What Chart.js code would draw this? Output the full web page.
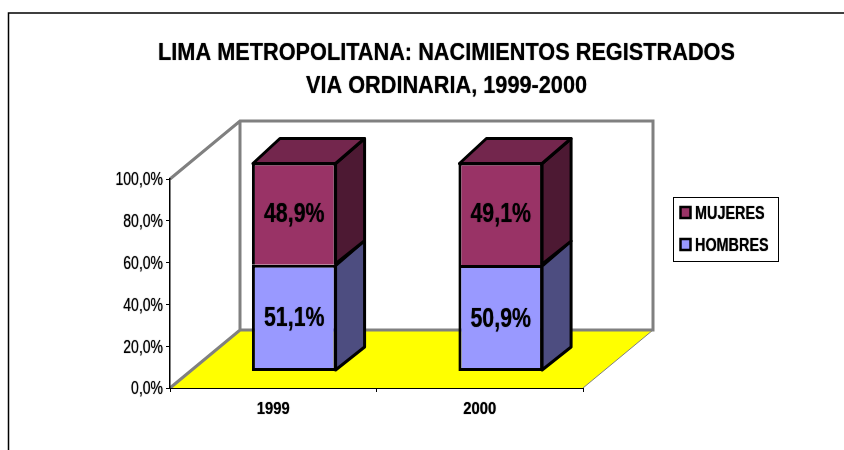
<!DOCTYPE html>
<html><head><meta charset="utf-8">
<style>html,body{margin:0;padding:0;background:#fff}canvas{display:block}</style>
<script src="https://cdn.jsdelivr.net/npm/chart.js@4"></script>
</head><body><canvas id="c" width="844" height="450"></canvas>
<script>
const categories = ['1999', '2000'];
const hombres = [51.1, 50.9];
const mujeres = [48.9, 49.1];
const seriesNames = ['HOMBRES', 'MUJERES'];
const yTicks = {min: 0, max: 100, step: 20};
const titleLines = ['LIMA METROPOLITANA: NACIMIENTOS REGISTRADOS', 'VIA ORDINARIA, 1999-2000'];

const FONT = '"Liberation Sans",Arial,sans-serif';
const pct = v => v.toFixed(1).replace('.', ',') + '%';
const wall = {dx: 70, dy: -58};     // depth of the 3D box
const front = {dx: 21, dy: -16.5};  // offset of the bars' front face
const bar3d = {dx: 28, dy: -24};    // depth of each 3D bar
const shade = {
  side: ['#4d4d80', '#4d1933'],
  top: [null, '#73264d']
};

// The reference text is horizontally condensed: draw real text through a horizontal squeeze
const squeeze = {'24.5': 0.886, '17': 0.87, '17.5': 0.8, '27': 0.79, '18': 0.8};
const nudgeY = {'17.5': 1.5, '27': 1, '18': 1};
const canvas = document.getElementById('c');
const rawCtx = canvas.getContext('2d');
const origFill = rawCtx.fillText.bind(rawCtx);
rawCtx.fillText = function (t, x, y) {
  const mt = /([\d.]+)px/.exec(rawCtx.font);
  const key = mt ? String(parseFloat(mt[1])) : '';
  rawCtx.save();
  rawCtx.translate(x, y + (nudgeY[key] || 0));
  rawCtx.scale(squeeze[key] || 1, 1);
  rawCtx.shadowColor = 'rgba(0,0,0,0.7)';
  rawCtx.shadowBlur = 1;
  origFill(t, 0, 0);
  rawCtx.restore();
};

function poly(ctx, pts, fill, stroke, lw) {
  ctx.beginPath();
  pts.forEach((p, i) => i ? ctx.lineTo(p[0], p[1]) : ctx.moveTo(p[0], p[1]));
  ctx.closePath();
  if (fill) { ctx.fillStyle = fill; ctx.fill(); }
  if (stroke) { ctx.strokeStyle = stroke; ctx.lineWidth = lw; ctx.lineJoin = 'round'; ctx.stroke(); }
}

const scene = {
  id: 'scene',
  afterLayout(chart) {
    const t = chart.titleBlock;
    t.left = 49; t.right = 844;
  },
  beforeDraw(chart) {
    const ctx = chart.ctx, a = chart.chartArea;
    ctx.save();
    ctx.fillStyle = '#fff';
    ctx.fillRect(0, 0, chart.width, chart.height);
    // outer frame
    ctx.strokeStyle = '#000'; ctx.lineWidth = 1.5;
    ctx.beginPath(); ctx.moveTo(8.5, 450); ctx.lineTo(8.5, 13); ctx.lineTo(844, 13); ctx.stroke();
    const L = a.left, R = a.right, T = a.top, B = a.bottom, dx = wall.dx, dy = wall.dy;
    // floor
    poly(ctx, [[L, B], [R, B], [R + dx, B + dy], [L + dx, B + dy]], '#ffff00');
    ctx.strokeStyle = '#808080';
    ctx.lineWidth = 1;
    ctx.beginPath(); ctx.moveTo(R, B); ctx.lineTo(R + dx, B + dy); ctx.stroke();
    ctx.lineWidth = 3; ctx.lineJoin = 'miter';
    ctx.beginPath();
    ctx.moveTo(L, B); ctx.lineTo(L + dx, B + dy); ctx.lineTo(R + dx, B + dy); ctx.lineTo(R + dx, T + dy);
    ctx.lineTo(L + dx, T + dy); ctx.lineTo(L, T);
    ctx.moveTo(L + dx, T + dy); ctx.lineTo(L + dx, B + dy);
    ctx.stroke();
    ctx.restore();
  },
  beforeDatasetsDraw(chart) {
    chart.ctx.save();
    chart.ctx.translate(front.dx, front.dy);
  },
  afterDatasetsDraw(chart) {
    const ctx = chart.ctx;
    chart.data.datasets.forEach((ds, i) => {
      chart.getDatasetMeta(i).data.forEach(el => {
        const p = el.getProps(['x', 'y', 'base', 'width'], true);
        const r = p.x + p.width / 2, l = p.x - p.width / 2;
        const dx = bar3d.dx, dy = bar3d.dy;
        poly(ctx, [[r - 1, p.base - 1], [r + dx, p.base + dy], [r + dx, p.y + dy], [r - 1, p.y + 1]], shade.side[i], '#000', 3);
        if (shade.top[i]) poly(ctx, [[l + 1, p.y + 1], [l + dx, p.y + dy], [r + dx, p.y + dy], [r - 1, p.y + 1]], shade.top[i], '#000', 3);
      });
    });
    ctx.fillStyle = '#000';
    ctx.font = 'bold 27px ' + FONT;
    ctx.textAlign = 'center';
    ctx.textBaseline = 'middle';
    chart.data.datasets.forEach((ds, i) => {
      chart.getDatasetMeta(i).data.forEach((el, j) => {
        const p = el.getProps(['x', 'y', 'base'], true);
        ctx.fillText(pct(ds.data[j]), p.x, (p.y + p.base) / 2);
      });
    });
    ctx.restore();
  },
  afterDraw(chart) {
    const ctx = chart.ctx;
    ctx.save();
    ctx.strokeStyle = '#000'; ctx.lineWidth = 1;
    ctx.strokeRect(673.5, 197.5, 105, 64);
    // legend, MUJERES first
    ctx.font = 'bold 18px ' + FONT;
    ctx.textAlign = 'left';
    ctx.textBaseline = 'middle';
    [1, 0].forEach((i, row) => {
      const ds = chart.data.datasets[i];
      const y = 213 + row * 32;
      ctx.fillStyle = ds.backgroundColor;
      ctx.strokeStyle = '#000';
      ctx.lineWidth = 2.5;
      ctx.fillRect(680.5, y - 6, 10, 11);
      ctx.strokeRect(680.5, y - 6, 10, 11);
      ctx.fillStyle = '#000';
      ctx.fillText(ds.label, 695, y);
    });
    ctx.restore();
  }
};

new Chart(canvas, {
  type: 'bar',
  data: {
    labels: categories,
    datasets: [
      {label: seriesNames[0], data: hombres, backgroundColor: '#9999ff', borderColor: '#000', borderWidth: 3, borderSkipped: false, stack: 's', clip: false},
      {label: seriesNames[1], data: mujeres, backgroundColor: '#993366', borderColor: '#000', borderWidth: 3, borderSkipped: 'bottom', stack: 's', clip: false}
    ]
  },
  options: {
    responsive: false,
    animation: false,
    devicePixelRatio: 1,
    layout: {padding: {left: 0, right: 261, top: 0, bottom: 0}},
    datasets: {bar: {categoryPercentage: 1, barPercentage: 0.41}},
    scales: {
      x: {
        stacked: true,
        afterFit(s) { s.height = 62; },
        grid: {drawOnChartArea: false, tickLength: 4, color: '#000', tickWidth: 1},
        border: {color: '#000', width: 1},
        ticks: {color: '#000', font: {family: FONT, size: 17, weight: 'bold'}, padding: 7, maxRotation: 0}
      },
      y: {
        stacked: true,
        min: yTicks.min, max: yTicks.max,
        afterFit(s) { s.width = 170; },
        grid: {drawOnChartArea: false, tickLength: 4, color: '#000', tickWidth: 1},
        border: {color: '#000', width: 1.5},
        ticks: {color: '#000', stepSize: yTicks.step, font: {family: FONT, size: 17.5}, padding: 3, callback: v => pct(v)}
      }
    },
    plugins: {
      tooltip: {enabled: false},
      legend: {display: false},
      title: {
        display: true,
        text: titleLines,
        color: '#000',
        font: {family: FONT, size: 24.5, weight: 'bold', lineHeight: 33 / 24.5},
        padding: {top: 37, bottom: 76}
      }
    }
  },
  plugins: [scene]
});
</script></body></html>
